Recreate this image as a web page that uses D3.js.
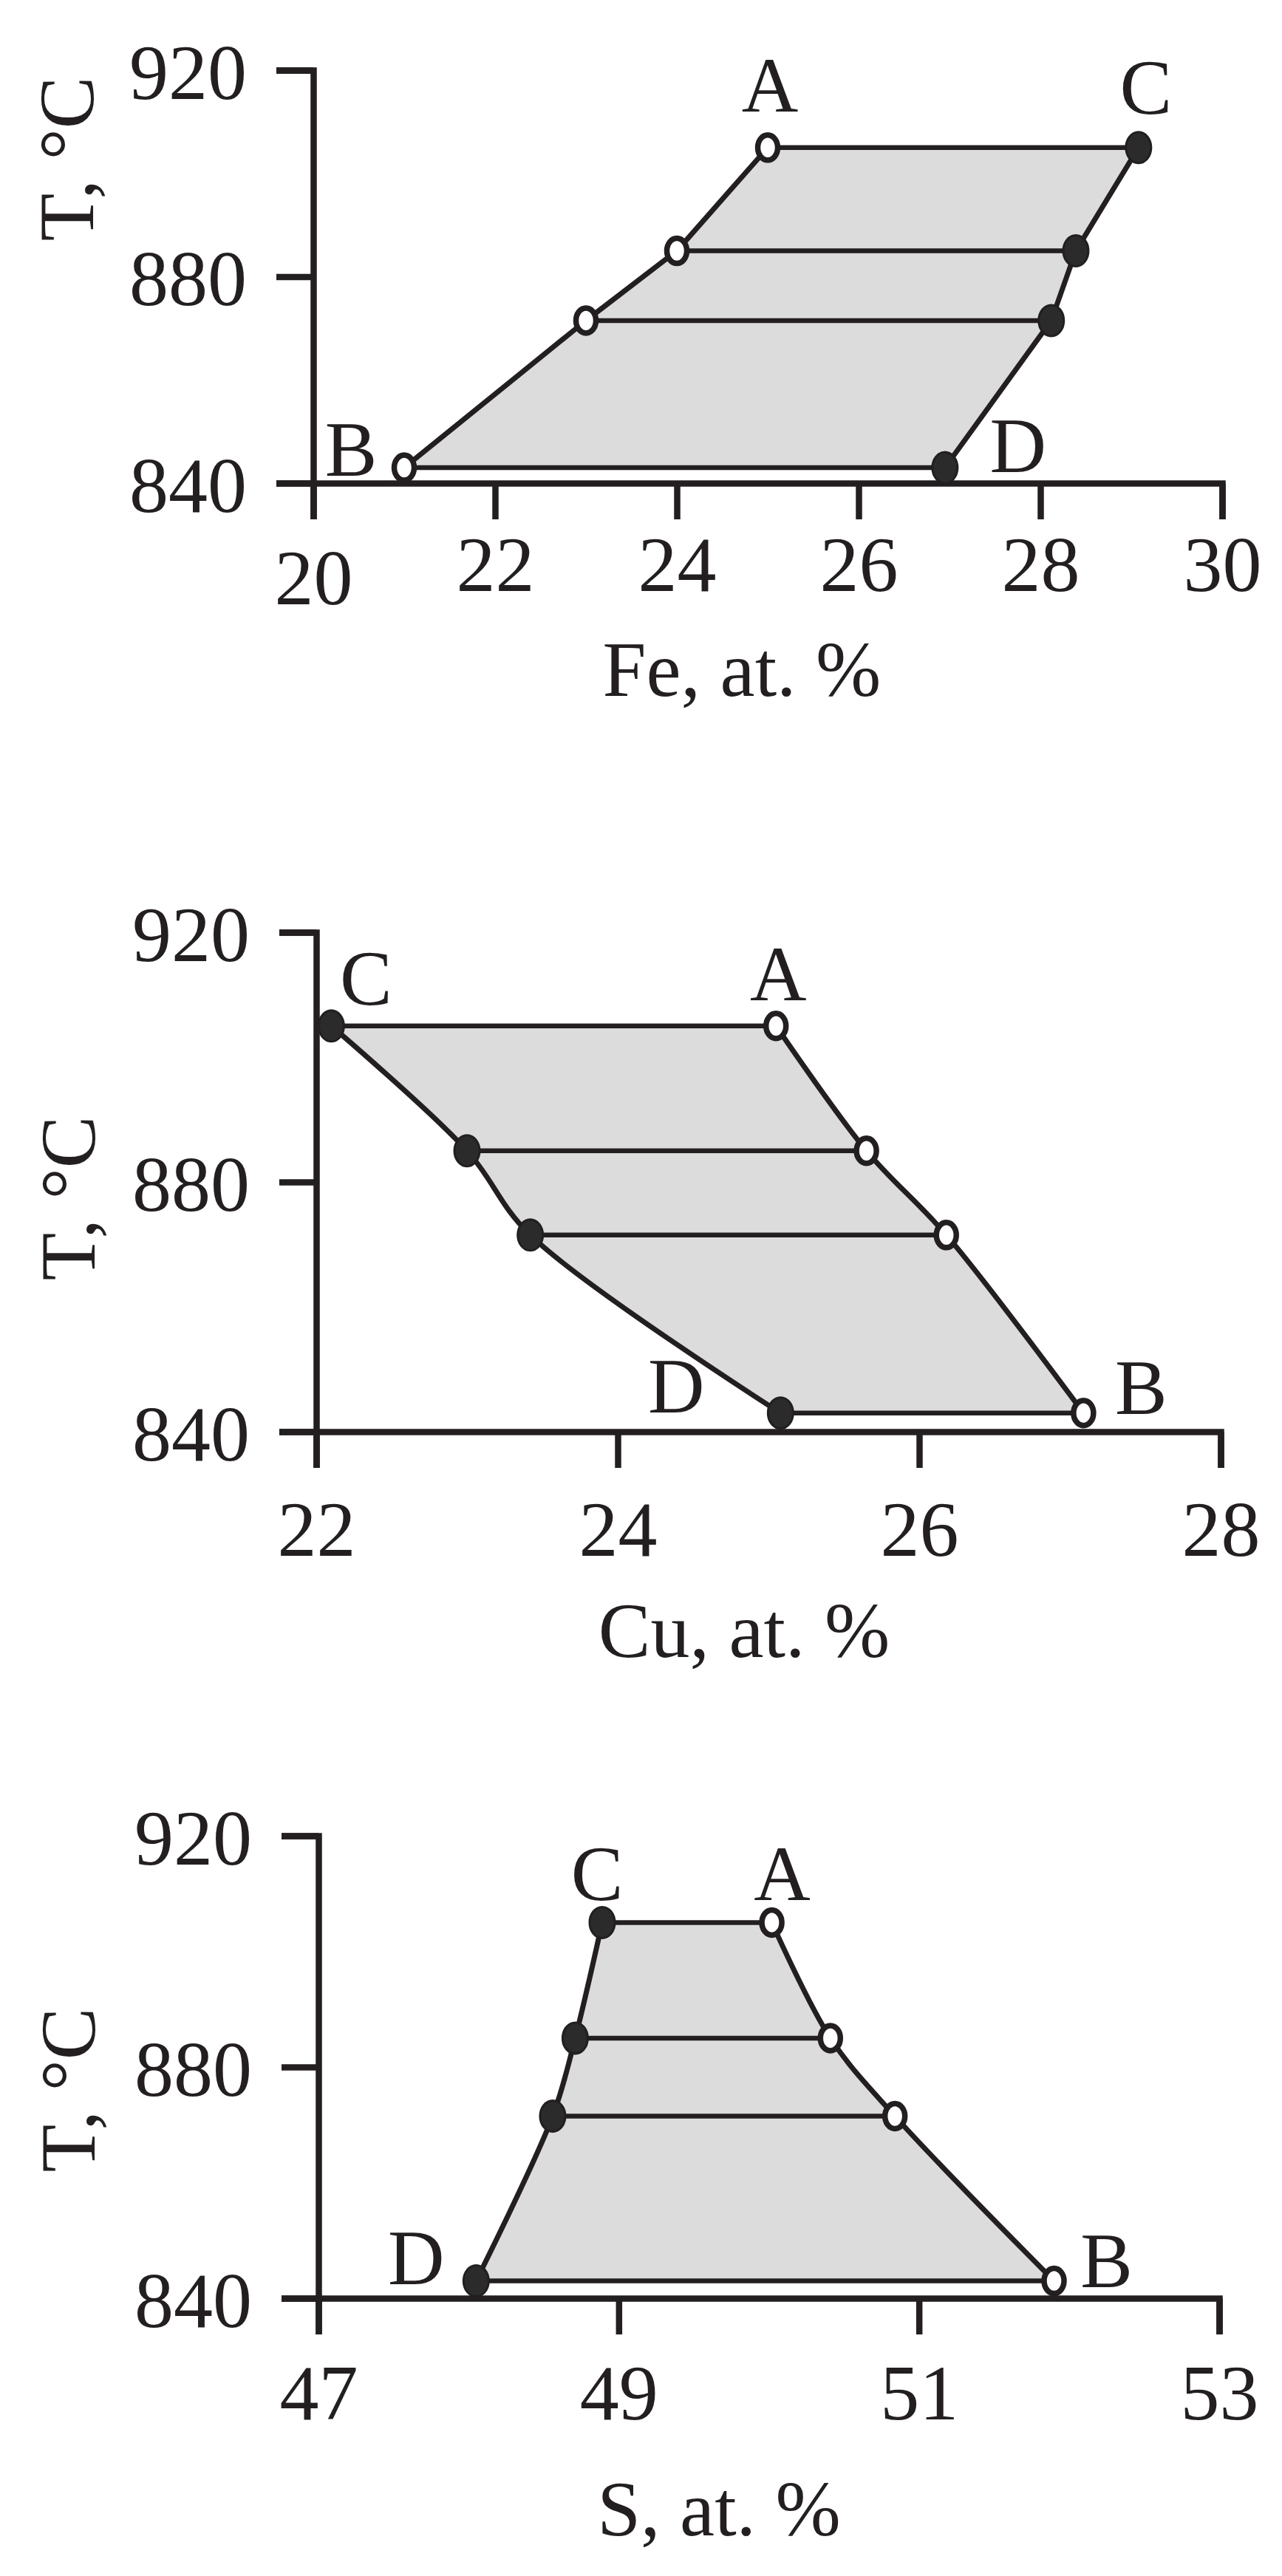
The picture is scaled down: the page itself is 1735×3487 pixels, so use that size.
<!DOCTYPE html>
<html><head><meta charset="utf-8">
<script src="https://cdn.jsdelivr.net/npm/d3@7"></script>
<style>body{margin:0;background:#fff} svg{display:block}</style>
</head><body>
<svg id="chart" width="1735" height="3487"></svg>
<script>
// ---- data ----
const temperatures = [905, 885, 871.5, 843];
const feOpen   = [25.0, 24.0, 23.0, 21.0];
const feFilled = [29.08, 28.39, 28.12, 26.95];
const cuOpen   = [25.05, 25.65, 26.18, 27.09];
const cuFilled = [22.10, 23.0, 23.42, 25.08];
const sOpen    = [50.02, 50.41, 50.84, 51.90];
const sFilled  = [48.89, 48.71, 48.56, 48.05];
const feTicks = [20, 22, 24, 26, 28, 30];
const cuTicks = [22, 24, 26, 28];
const sTicks  = [47, 49, 51, 53];
const tTicks  = [840, 880, 920];
const xTitles = ["Fe, at. %", "Cu, at. %", "S, at. %"];
const yTitle = "T, °C";
const pointLetters = ["A", "B", "C", "D"]; // open top, open bottom, filled top, filled bottom

// ---- layout ----
const INK = "#231f20";
const FONT = "'Liberation Serif','Times New Roman',serif";
const FS = 106;
const panels = [
  {open: feOpen, filled: feFilled, ticks: feTicks, dom: [20, 30], xr: [424, 1654], yr: [654, 95],
   curve: d3.curveLinear, title: xTitles[0], tx: 1004, ty: 942, ytx: 126, yty: 215, lab: 146, drop0: 18,
   off: {A: [3, -49], B: [-72, 11], C: [10, -46], D: [99, 6]}},
  {open: cuOpen, filled: cuFilled, ticks: cuTicks, dom: [22, 28], xr: [428, 1652], yr: [1938, 1262],
   curve: d3.curveCatmullRom, title: xTitles[1], tx: 1007, ty: 2243, ytx: 128, yty: 1622, lab: 168, drop0: 0,
   off: {A: [3, -35], B: [78, 1], C: [47, -29], D: [-141, -1]}},
  {open: sOpen, filled: sFilled, ticks: sTicks, dom: [47, 53], xr: [431, 1650], yr: [3111, 2485],
   curve: d3.curveCatmullRom, title: xTitles[2], tx: 973, ty: 3432, ytx: 128, yty: 2829, lab: 164, drop0: 0,
   off: {A: [14, -30], B: [71, 8], C: [-7, -30], D: [-81, 4]}}
];

const svg = d3.select("#chart");
svg.append("rect").attr("width", 1735).attr("height", 3487).attr("fill", "#fff");

panels.forEach(p => {
  const x = d3.scaleLinear().domain(p.dom).range(p.xr);
  const y = d3.scaleLinear().domain([840, 920]).range(p.yr);
  const g = svg.append("g");
  const rows = temperatures.map((t, i) => ({t, open: p.open[i], filled: p.filled[i]}));

  const area = d3.area().curve(p.curve)
    .y(d => y(d.t)).x0(d => x(d.open)).x1(d => x(d.filled));
  g.append("path").attr("d", area(rows)).attr("fill", "#dcdcdc");
  [area.lineX0(), area.lineX1()].forEach(l => {
    g.append("path").attr("d", l(rows)).attr("fill", "none")
      .attr("stroke", INK).attr("stroke-width", 7).attr("stroke-linejoin", "round");
  });
  g.selectAll("line.tie").data(rows).join("line").attr("class", "tie")
    .attr("x1", d => x(d.open)).attr("x2", d => x(d.filled))
    .attr("y1", d => y(d.t)).attr("y2", d => y(d.t))
    .attr("stroke", INK).attr("stroke-width", 6.5);

  // axes
  const xa = g.append("g").attr("transform", `translate(0,${p.yr[0]})`)
    .call(d3.axisBottom(x).tickValues(p.ticks).tickSize(49).tickSizeOuter(49).tickFormat(d3.format("d")));
  const ya = g.append("g").attr("transform", `translate(${p.xr[0]},0)`)
    .call(d3.axisLeft(y).tickValues(tTicks).tickSize(50).tickSizeOuter(50).tickFormat(d3.format("d")));
  [xa, ya].forEach(a => {
    a.attr("font-size", null).attr("font-family", null);
    a.selectAll("path.domain, .tick line").attr("stroke", INK).attr("stroke-width", 8.5);
    a.selectAll("text").attr("fill", INK).style("font-family", FONT).style("font-size", FS + "px");
  });
  xa.selectAll("text").attr("y", (d, i) => p.lab + (i === 0 ? p.drop0 : 0)).attr("dy", 0);
  ya.selectAll("text").attr("x", -90).attr("dy", "0.36em");

  // markers
  g.selectAll("ellipse.open").data(rows).join("ellipse").attr("class", "open")
    .attr("cx", d => x(d.open)).attr("cy", d => y(d.t)).attr("rx", 13.5).attr("ry", 17)
    .attr("fill", "#fff").attr("stroke", INK).attr("stroke-width", 7.5);
  g.selectAll("ellipse.filled").data(rows).join("ellipse").attr("class", "filled")
    .attr("cx", d => x(d.filled)).attr("cy", d => y(d.t)).attr("rx", 17).attr("ry", 21)
    .attr("fill", "#2b2b2b").attr("stroke", INK).attr("stroke-width", 3);

  // point letters
  const first = rows[0], last = rows[rows.length - 1];
  const anchors = [
    [pointLetters[0], x(first.open), y(first.t)],
    [pointLetters[1], x(last.open), y(last.t)],
    [pointLetters[2], x(first.filled), y(first.t)],
    [pointLetters[3], x(last.filled), y(last.t)]
  ];
  anchors.forEach(([L, ax, ay]) => {
    g.append("text").attr("x", ax + p.off[L][0]).attr("y", ay + p.off[L][1])
      .attr("text-anchor", "middle").attr("fill", INK)
      .style("font-family", FONT).style("font-size", FS + "px").text(L);
  });

  // titles
  g.append("text").attr("x", p.tx).attr("y", p.ty).attr("text-anchor", "middle").attr("fill", INK)
    .style("font-family", FONT).style("font-size", FS + "px").text(p.title);
  g.append("text").attr("transform", `translate(${p.ytx},${p.yty}) rotate(-90)`)
    .attr("text-anchor", "middle").attr("fill", INK)
    .style("font-family", FONT).style("font-size", FS + "px").text(yTitle);
});
</script>
</body></html>
